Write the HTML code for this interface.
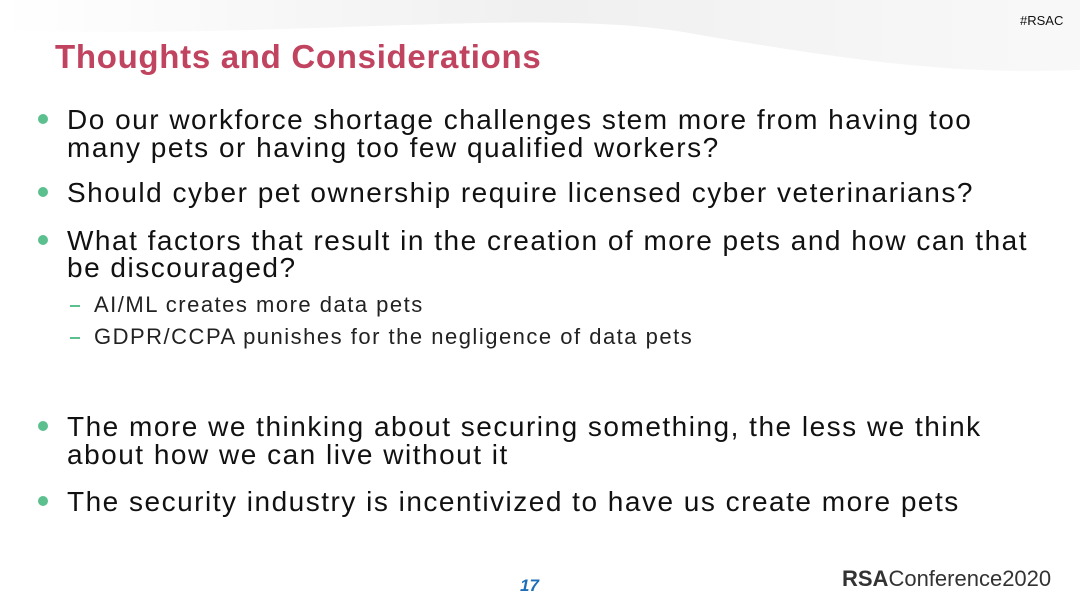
<!DOCTYPE html>
<html><head><meta charset="utf-8"><style>
body{margin:0;width:1080px;height:608px;overflow:hidden;background:#fff;font-family:"Liberation Sans",sans-serif;position:relative}
.t{position:absolute;white-space:nowrap;color:#111;line-height:1}
.b{font-size:28px;letter-spacing:1.5px}
.s{font-size:22px;letter-spacing:1.5px;color:#222}
.dot{position:absolute;width:10px;height:10px;border-radius:50%;background:#5cbf8e}
.dash{position:absolute;width:10px;height:2px;background:#5cbf8e}
</style></head><body>
<svg style="position:absolute;left:0;top:0" width="1080" height="120">
<defs><linearGradient id="g" x1="0" x2="1"><stop offset="0" stop-color="#fff"/><stop offset="0.5" stop-color="#ececec"/><stop offset="1" stop-color="#f7f7f7"/></linearGradient></defs>
<path d="M0 0 H1080 V70 C950 75 850 60 700 35 C550 5 300 40 0 30 Z" fill="url(#g)" opacity="0.8"/>
</svg>
<div class="t" style="left:1020px;top:14px;font-size:13px">#RSAC</div>
<div class="t" style="left:55px;top:40px;font-size:33px;font-weight:bold;color:#c0435f;letter-spacing:0.7px">Thoughts and Considerations</div>

<div class="dot" style="left:38px;top:114px"></div>
<div class="t b" style="left:67px;top:106px">Do our workforce shortage challenges stem more from having too</div>
<div class="t b" style="left:67px;top:134px">many pets or having too few qualified workers?</div>
<div class="dot" style="left:38px;top:187px"></div>
<div class="t b" style="left:67px;top:179px">Should cyber pet ownership require licensed cyber veterinarians?</div>
<div class="dot" style="left:38px;top:235px"></div>
<div class="t b" style="left:67px;top:227px">What factors that result in the creation of more pets and how can that</div>
<div class="t b" style="left:67px;top:254px">be discouraged?</div>
<div class="dash" style="left:70px;top:305px"></div>
<div class="t s" style="left:94px;top:294px">AI/ML creates more data pets</div>
<div class="dash" style="left:70px;top:337px"></div>
<div class="t s" style="left:94px;top:326px">GDPR/CCPA punishes for the negligence of data pets</div>
<div class="dot" style="left:38px;top:421px"></div>
<div class="t b" style="left:67px;top:413px">The more we thinking about securing something, the less we think</div>
<div class="t b" style="left:67px;top:441px">about how we can live without it</div>
<div class="dot" style="left:38px;top:496px"></div>
<div class="t b" style="left:67px;top:488px">The security industry is incentivized to have us create more pets</div>

<div class="t" style="left:520px;top:577px;font-size:17px;font-weight:bold;font-style:italic;color:#1f6fb8">17</div>
<div class="t" style="left:842px;top:568px;font-size:22px;color:#333;letter-spacing:0px"><b>RSA</b>Conference2020</div>
</body></html>
